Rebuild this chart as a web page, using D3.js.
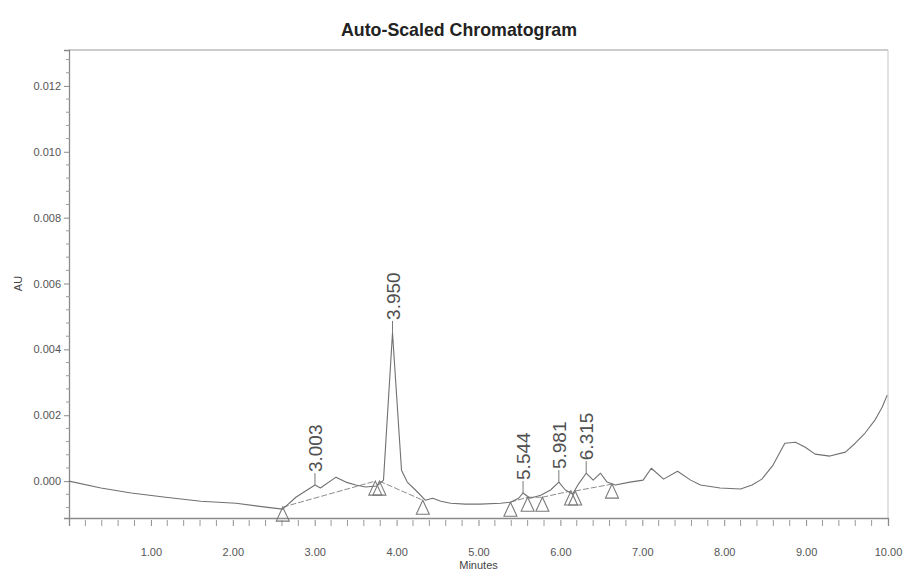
<!DOCTYPE html>
<html>
<head>
<meta charset="utf-8">
<script src="https://cdn.jsdelivr.net/npm/d3@7/dist/d3.min.js"></script>
<style>
  html, body { margin: 0; padding: 0; background: #fff; }
  svg { display: block; }
</style>
</head>
<body>
<svg id="chart" width="907" height="573"></svg>
<script>
// Detector trace: retention time (minutes) and absorbance (AU)
const traceTime = [0.00, 0.39, 0.76, 1.18, 1.61, 2.04, 2.40, 2.61, 2.77, 3.003, 3.07, 3.26, 3.38, 3.50,
  3.62, 3.76, 3.84, 3.950, 4.06, 4.13, 4.23, 4.35, 4.44, 4.54, 4.66, 4.84, 5.02, 5.27, 5.39, 5.49,
  5.544, 5.63, 5.76, 5.88, 5.981, 6.06, 6.15, 6.22, 6.315, 6.40, 6.49, 6.57, 6.67, 6.85, 7.01,
  7.11, 7.26, 7.43, 7.59, 7.71, 7.95, 8.20, 8.34, 8.46, 8.59, 8.74, 8.87, 8.99, 9.11, 9.29, 9.48,
  9.60, 9.72, 9.84, 9.93, 9.99];
const traceAU = [0.00000, -0.00021, -0.00036, -0.00049, -0.00061, -0.00067, -0.00079, -0.00085, -0.00049, -0.00012, -0.00021, 0.00012, -0.00003, -0.00012,
  -0.00018, -0.00015, 0.00003, 0.00450, 0.00033, -0.00003, -0.00027, -0.00058, -0.00052, -0.00061, -0.00067, -0.00070, -0.00070, -0.00067, -0.00064, -0.00052,
  -0.00036, -0.00052, -0.00043, -0.00027, -0.00003, -0.00027, -0.00039, -0.00009, 0.00024, 0.00003, 0.00024, -0.00003, -0.00012, -0.00003, 0.00003,
  0.00039, 0.00006, 0.00030, 0.00003, -0.00012, -0.00021, -0.00024, -0.00012, 0.00006, 0.00046, 0.00115, 0.00118, 0.00103, 0.00082, 0.00076, 0.00088,
  0.00115, 0.00146, 0.00185, 0.00225, 0.00261];

// Integrated peaks (apex retention times)
const peakTimes = [3.003, 3.950, 5.544, 5.981, 6.315];
const peakLabels = ["3.003", "3.950", "5.544", "5.981", "6.315"];

// Peak start / end markers
const markerTime = [2.61, 3.74, 3.79, 4.32, 5.39, 5.60, 5.78, 6.13, 6.18, 6.63];
const markerAU = [-0.00079, 0.00000, 0.00000, -0.00058, -0.00064, -0.00049, -0.00049, -0.00030, -0.00030, -0.00009];
// Integration baselines between markers (start index, end index)
const baselineStart = [0, 2, 4, 5, 6, 8];
const baselineEnd = [1, 3, 5, 6, 7, 9];

// Axis ticks
const xTicks = [1, 2, 3, 4, 5, 6, 7, 8, 9, 10];
const yTicks = [0.000, 0.002, 0.004, 0.006, 0.008, 0.010, 0.012];

const svg = d3.select("#chart");
const plotLeft = 69, plotRight = 888, plotTop = 50, plotBottom = 518;

const x = d3.scaleLinear().domain([0, 10]).range([plotLeft, plotRight]);
const y = d3.scaleLinear().domain([-0.00112, 0.01309]).range([plotBottom, plotTop]);

// Title
svg.append("text")
  .attr("x", 459).attr("y", 36)
  .attr("text-anchor", "middle")
  .attr("textLength", 236).attr("lengthAdjust", "spacingAndGlyphs")
  .style("font-family", "'Liberation Sans Narrow', 'Liberation Sans', Arial, sans-serif")
  .style("font-weight", "bold").style("font-size", "19px").attr("fill", "#222")
  .text("Auto-Scaled Chromatogram");

// Frame (top and right)
svg.append("line").attr("x1", plotLeft).attr("x2", plotRight).attr("y1", plotTop).attr("y2", plotTop)
  .attr("stroke", "#9a9a9a").attr("stroke-width", 1.2);
svg.append("line").attr("x1", plotRight).attr("x2", plotRight).attr("y1", plotTop).attr("y2", plotBottom)
  .attr("stroke", "#c4c4c4").attr("stroke-width", 1);

// X axis with minor ticks
const xMinor = d3.range(0.2, 10.001, 0.2).map(v => +v.toFixed(1)).filter(v => !xTicks.includes(v));
const xAxisG = svg.append("g").attr("transform", `translate(0,${plotBottom})`);
xAxisG.call(d3.axisBottom(x).tickValues(xTicks).tickFormat(d3.format(".2f")).tickSize(8).tickPadding(22));
xAxisG.selectAll(".minor").data(xMinor).enter().append("line")
  .attr("class", "minor")
  .attr("x1", d => x(d)).attr("x2", d => x(d)).attr("y1", 2).attr("y2", 8)
  .attr("stroke", "#9a9a9a");
xAxisG.select(".domain").attr("stroke", "#8a8a8a").attr("stroke-width", 1.3);
xAxisG.selectAll(".tick line").attr("stroke", "#8a8a8a").attr("y1", 2);
xAxisG.selectAll(".tick text")
  .style("font-family", "'Liberation Sans', Arial, sans-serif").style("font-size", "11px").attr("fill", "#555");

svg.append("text").attr("x", x(5)).attr("y", 569).attr("text-anchor", "middle")
  .style("font-family", "'Liberation Sans', Arial, sans-serif").style("font-size", "11px").attr("fill", "#444")
  .text("Minutes");

// Y axis with minor ticks
const yMinor = d3.range(-0.0008, 0.0130, 0.0004).map(v => +v.toFixed(4)).filter(v => !yTicks.some(t => Math.abs(t - v) < 1e-9));
const yAxisG = svg.append("g").attr("transform", `translate(${plotLeft},0)`);
yAxisG.call(d3.axisLeft(y).tickValues(yTicks).tickFormat(d3.format(".3f")).tickSize(5).tickPadding(3));
yAxisG.selectAll(".minor").data(yMinor).enter().append("line")
  .attr("class", "minor")
  .attr("x1", -3).attr("x2", 1).attr("y1", d => y(d)).attr("y2", d => y(d))
  .attr("stroke", "#9a9a9a");
yAxisG.select(".domain").attr("stroke", "#8a8a8a").attr("stroke-width", 1.3);
yAxisG.selectAll(".tick line").attr("stroke", "#8a8a8a");
yAxisG.selectAll(".tick text")
  .style("font-family", "'Liberation Sans', Arial, sans-serif").style("font-size", "11px").attr("fill", "#555");

svg.append("text").attr("transform", `translate(22,${y(0.006)}) rotate(-90)`).attr("text-anchor", "middle")
  .style("font-family", "'Liberation Sans', Arial, sans-serif").style("font-size", "11px").attr("fill", "#444")
  .text("AU");

// Integration baselines
const baselineData = baselineStart.map((s, i) => [s, baselineEnd[i]]);
svg.append("g").selectAll("line").data(baselineData).enter().append("line")
  .attr("x1", d => x(markerTime[d[0]])).attr("y1", d => y(markerAU[d[0]]))
  .attr("x2", d => x(markerTime[d[1]])).attr("y2", d => y(markerAU[d[1]]))
  .attr("stroke", "#8c8c8c").attr("stroke-width", 1).attr("stroke-dasharray", "6,2");

// Trace
const traceData = traceTime.map((t, i) => [t, traceAU[i]]);
svg.append("path").datum(traceData)
  .attr("d", d3.line().x(d => x(d[0])).y(d => y(d[1])))
  .attr("fill", "none").attr("stroke", "#717171").attr("stroke-width", 1.1)
  .attr("stroke-linejoin", "round");

// Start / end markers (open triangles)
svg.append("g").selectAll("path").data(markerTime.map((t, i) => [t, markerAU[i]])).enter().append("path")
  .attr("d", d => {
    const cx = x(d[0]), cy = y(d[1]);
    return `M${cx},${cy}L${cx + 6.5},${cy + 14}L${cx - 6.5},${cy + 14}Z`;
  })
  .attr("fill", "none").attr("stroke", "#7a7a7a").attr("stroke-width", 1.1);

// Peak labels with leader lines
const auAt = t => traceAU[traceTime.indexOf(t)];
const labelG = svg.append("g");
peakTimes.forEach((t, i) => {
  const px = x(t), py = y(auAt(t));
  labelG.append("line").attr("x1", px).attr("x2", px).attr("y1", py).attr("y2", py - 12)
    .attr("stroke", "#7a7a7a").attr("stroke-width", 1);
  labelG.append("text")
    .attr("transform", `translate(${px + 7},${py - 13}) rotate(-90)`)
    .style("font-family", "'Liberation Sans', Arial, sans-serif").style("font-size", "19px")
    .attr("fill", "#505050")
    .text(peakLabels[i]);
});
</script>
</body>
</html>
